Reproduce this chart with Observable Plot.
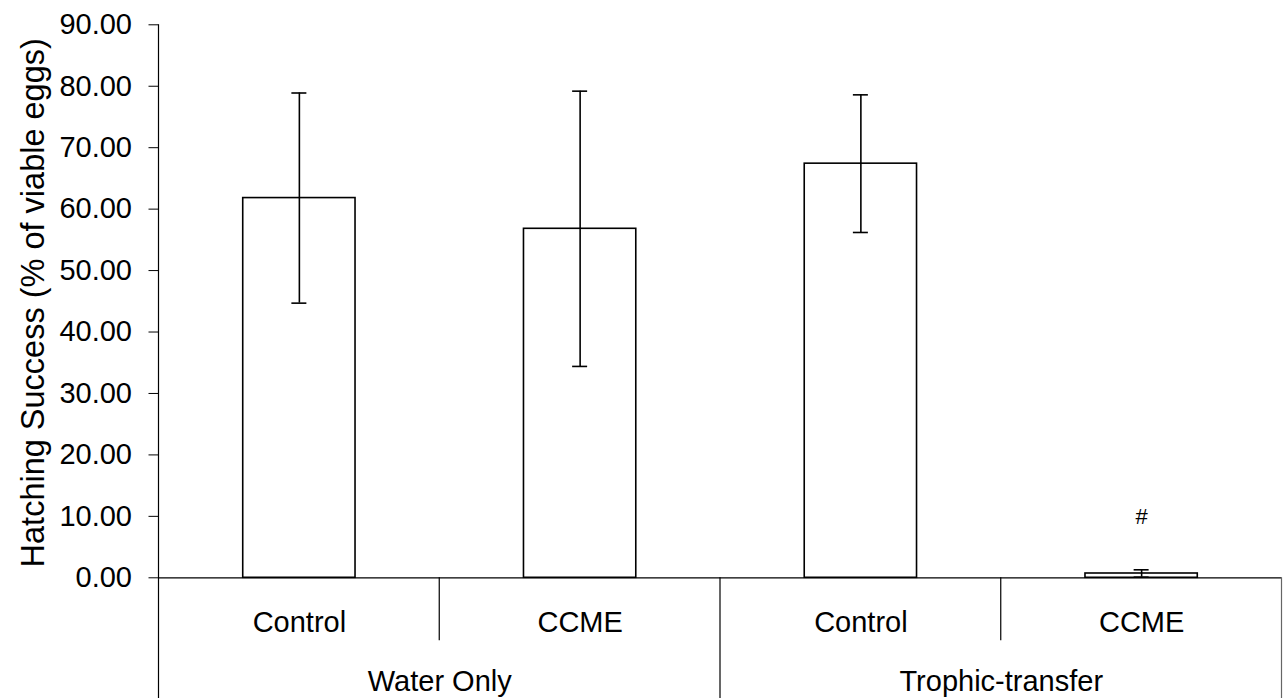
<!DOCTYPE html>
<html>
<head>
<meta charset="utf-8">
<script src="https://cdn.jsdelivr.net/npm/d3@7"></script>
<script src="https://cdn.jsdelivr.net/npm/@observablehq/plot@0.6"></script>
<style>
  html, body { margin: 0; padding: 0; background: #fff; }
  #chart svg { display: block; }
</style>
</head>
<body>
<div id="chart"></div>
<script>
// Hatching success per treatment, mean ± error
const treatments = ["Control", "CCME", "Control", "CCME"];
const groups = ["Water Only", "Trophic-transfer"];
const groupOfBar = [0, 0, 1, 1];
const means = [61.8, 56.8, 67.4, 0.7];
const errors = [17.1, 22.4, 11.2, 0.6];
const annotations = ["", "", "", "#"];
const yTicks = [0, 10, 20, 30, 40, 50, 60, 70, 80, 90];
const yLabel = "Hatching Success (% of viable eggs)";

const bars = treatments.map((t, i) => ({
  i,
  center: i + 0.5,
  treatment: t,
  mean: means[i],
  lo: Math.max(0, means[i] - errors[i]),
  hi: means[i] + errors[i],
  note: annotations[i]
}));
const groupRows = groups.map((g, k) => {
  const members = bars.filter((b) => groupOfBar[b.i] === k);
  return {group: g, center: d3.mean(members, (b) => b.center)};
});

const W = 1283, H = 698;
const font = "'Liberation Sans', Arial, sans-serif";

const chart = Plot.plot({
  width: W,
  height: H,
  marginLeft: 158.5,
  marginRight: 1.5,
  marginTop: 24.3,
  marginBottom: H - 577.3,
  style: {fontFamily: font, fontSize: "29px", color: "#000", background: "#fff", overflow: "visible"},
  x: {domain: [0, treatments.length], axis: null},
  y: {
    domain: [0, 90],
    ticks: yTicks,
    tickFormat: d3.format(".2f"),
    tickSize: 10,
    tickPadding: 17,
    label: null
  },
  marks: [
    Plot.rectY(bars, {
      x1: (d) => d.i + 0.3, x2: (d) => d.i + 0.7, y1: 0, y2: "mean",
      fill: "white", stroke: "black", strokeWidth: 1.6
    }),
    Plot.ruleY([0], {stroke: "black", strokeWidth: 1.2}),
    Plot.ruleX(bars, {x: "center", y1: "lo", y2: "hi", stroke: "black", strokeWidth: 1.6}),
    Plot.ruleY(bars, {x1: "center", x2: "center", y: "hi", insetLeft: -7.5, insetRight: -7.5, stroke: "black", strokeWidth: 1.6}),
    Plot.ruleY(bars, {x1: "center", x2: "center", y: "lo", insetLeft: -7.5, insetRight: -7.5, stroke: "black", strokeWidth: 1.6}),
    Plot.text(bars, {x: "center", y: 0, text: "treatment", dy: 45, fontSize: 29}),
    Plot.text(groupRows, {x: "center", y: 0, text: "group", dy: 104, fontSize: 29}),
    Plot.text(bars, {x: "center", y: "hi", text: "note", dy: -53, fontSize: 22})
  ]
});

document.getElementById("chart").appendChild(chart);

// Category table lines below the axis and the y-axis line
const sx = chart.scale("x"), sy = chart.scale("y");
const svg = d3.select(chart);
const lines = [
  {x: sx.apply(0), y1: sy.apply(90), y2: H, color: "#000"},
  {x: sx.apply(1), y1: sy.apply(0), y2: sy.apply(0) + 63, color: "#000"},
  {x: sx.apply(2), y1: sy.apply(0), y2: H, color: "#000"},
  {x: sx.apply(3), y1: sy.apply(0), y2: sy.apply(0) + 63, color: "#000"},
  {x: sx.apply(4), y1: sy.apply(0), y2: H, color: "#666"}
];
svg.append("g")
  .selectAll("line")
  .data(lines)
  .join("line")
  .attr("x1", (d) => d.x).attr("x2", (d) => d.x)
  .attr("y1", (d) => d.y1).attr("y2", (d) => d.y2)
  .attr("stroke", (d) => d.color)
  .attr("stroke-width", 1.2);

// Rotated y-axis title
svg.append("text")
  .attr("transform", `translate(44,${(sy.apply(0) + sy.apply(90)) / 2 + 2}) rotate(-90)`)
  .attr("text-anchor", "middle")
  .attr("font-family", font)
  .attr("font-size", 32.5)
  .attr("fill", "#000")
  .text(yLabel);
</script>
</body>
</html>
